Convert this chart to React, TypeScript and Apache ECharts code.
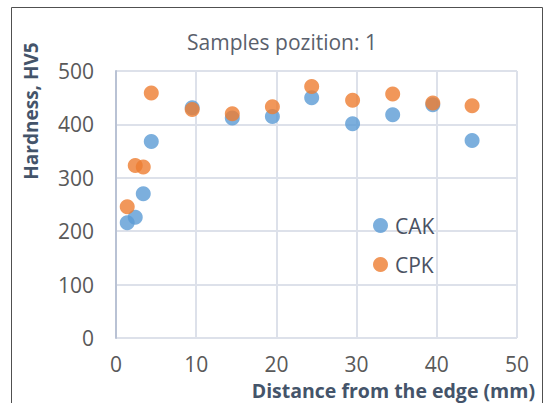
import React, { useEffect, useRef } from "react";
import * as echarts from "echarts";

const distances = [1.4, 2.4, 3.4, 4.4, 9.5, 14.5, 19.5, 24.4, 29.5, 34.5, 39.5, 44.4];
const cakValues = [216, 226, 270, 368, 431, 412, 415, 450, 401, 418, 437, 370];
const cpkValues = [246, 323, 320, 459, 428, 420, 433, 471, 445, 457, 440, 435];
const seriesNames = ["CAK", "CPK"];
const titleText = "Samples pozition: 1";
const xTitle = "Distance from the edge (mm)";
const yTitle = "Hardness, HV5";

const FONT = "'Open Sans', sans-serif";

export default function App() {
  const ref = useRef<HTMLDivElement>(null);
  useEffect(() => {
    if (!ref.current) return;
    const chart = echarts.init(ref.current, undefined, { renderer: "svg" });
    const toPairs = (vals: number[]) => distances.map((d, i) => [d, vals[i]]);
    chart.setOption({
      animation: false,
      backgroundColor: "#ffffff",
      textStyle: { fontFamily: FONT },
      title: {
        text: titleText,
        left: 277,
        textAlign: "center",
        top: 26,
        textStyle: { fontFamily: FONT, fontSize: 21, fontWeight: "normal", color: "#5a606c" },
      },
      legend: {
        orient: "vertical",
        left: 368,
        top: 210,
        itemWidth: 15,
        itemHeight: 15,
        itemGap: 18,
        icon: "circle",
        textStyle: { fontFamily: FONT, fontSize: 21, color: "#4a5263", padding: [0, 0, 0, 2] },
        data: seriesNames,
      },
      grid: { left: 116, right: 29, top: 71, bottom: 65, containLabel: false },
      xAxis: {
        type: "value",
        min: 0,
        max: 50,
        interval: 10,
        axisLine: { show: false },
        axisTick: { show: false },
        axisLabel: { margin: 15, fontFamily: FONT, fontSize: 21, lineHeight: 21, color: "#595959" },
        splitLine: { show: true, lineStyle: { color: "#dde1ea", width: 2 } },
      },
      yAxis: {
        type: "value",
        min: 0,
        max: 500,
        interval: 100,
        axisLine: { show: true, lineStyle: { color: "#b9c2d4", width: 2 } },
        axisTick: { show: false },
        axisLabel: { margin: 22, fontFamily: FONT, fontSize: 21, color: "#595959" },
        splitLine: { show: true, lineStyle: { color: "#dde1ea", width: 2 } },
      },
      graphic: [
        {
          type: "rect",
          shape: { x: 11.5, y: 7.5, width: 531, height: 400 },
          style: { fill: "none", stroke: "#505050", lineWidth: 1 },
          silent: true,
        },
        {
          type: "text",
          x: 535,
          y: 390,
          style: {
            text: xTitle,
            fontFamily: FONT,
            fontSize: 19.5,
            lineHeight: 19,
            fontWeight: "bold",
            fill: "#44546a",
            align: "right",
            verticalAlign: "middle",
          },
        },
        {
          type: "text",
          x: 31,
          y: 111,
          rotation: Math.PI / 2,
          style: {
            text: yTitle,
            fontFamily: FONT,
            fontSize: 19,
            fontWeight: "bold",
            fill: "#44546a",
            align: "center",
            verticalAlign: "middle",
          },
        },
      ],
      series: [
        {
          name: seriesNames[0],
          type: "scatter",
          symbol: "circle",
          symbolSize: 15,
          itemStyle: { color: "#5b9bd5" },
          data: toPairs(cakValues),
          z: 2,
        },
        {
          name: seriesNames[1],
          type: "scatter",
          symbol: "circle",
          symbolSize: 15,
          itemStyle: { color: "#ed7d31" },
          data: toPairs(cpkValues),
          z: 3,
        },
      ],
    });
    return () => chart.dispose();
  }, []);
  return (
    <div
      ref={ref}
      style={{ position: "fixed", left: 0, top: 0, width: 546, height: 403 }}
    />
  );
}
